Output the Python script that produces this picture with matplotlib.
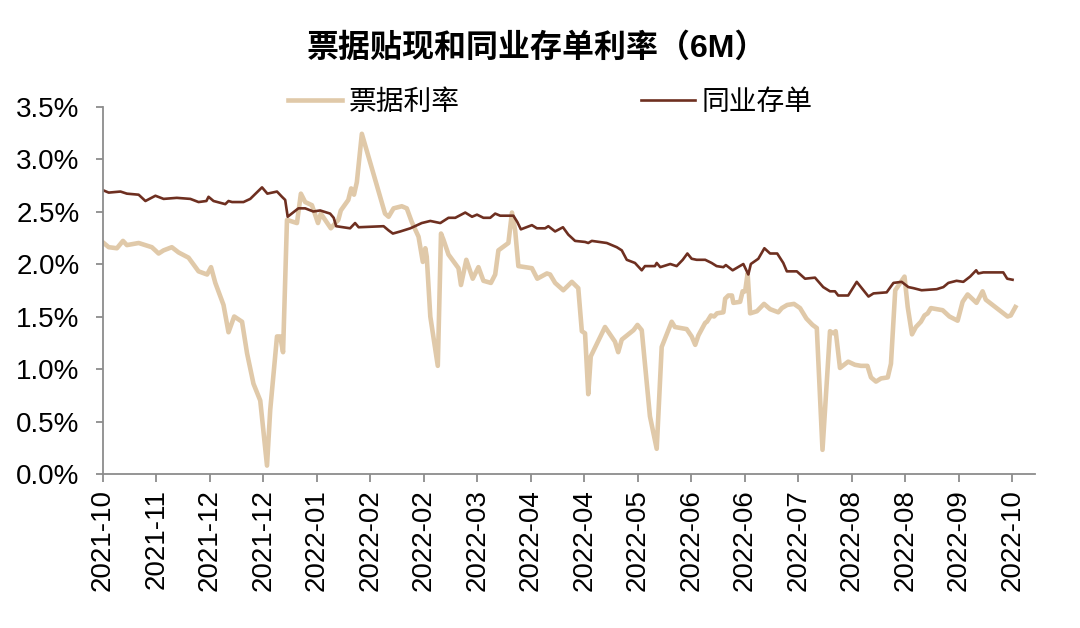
import matplotlib
matplotlib.use("Agg")
import matplotlib.pyplot as plt

plt.rcParams['font.family'] = ['Liberation Sans', 'Noto Sans CJK SC', 'DejaVu Sans']

# x = trading-day index from 2021-10 start
bill_x = [0.2, 1.6, 3.9, 5.6, 6.7, 10.0, 13.7, 15.6, 17.0, 19.3, 21.2, 24.0, 26.8, 29.2, 30.3, 31.5,
          33.8, 35.2, 36.8, 39.0, 40.4, 42.2, 44.1, 46.0, 46.9, 48.8, 49.7, 50.5, 51.6, 54.4, 55.5,
          56.7, 58.6, 60.3, 61.1, 63.9, 66.0, 66.7, 68.8, 69.6, 70.4, 71.2, 72.6, 79.1, 80.1, 81.5,
          83.8, 85.2, 86.6, 88.5, 89.7, 90.4, 90.8, 91.8, 93.9, 94.8, 95.5, 96.9, 99.7, 100.4, 101.9,
          103.7, 105.3, 106.7, 108.8, 110.0, 110.9, 113.7, 114.7, 115.6, 116.5, 120.3, 121.8, 124.5,
          125.4, 126.8, 129.1, 131.5, 133.3, 134.3, 135.2, 136.1, 136.8, 140.8, 143.6, 144.5, 145.5,
          148.8, 149.9, 151.1, 153.4, 155.3, 156.7, 159.5, 160.4, 163.7, 165.1, 166.1, 167.0, 168.9,
          169.4, 170.5, 171.4, 172.2, 174.0, 174.5, 175.4, 176.4, 176.8, 178.7, 179.4, 180.1, 180.8,
          181.5, 183.4, 185.4, 187.1, 189.4, 190.4, 191.9, 193.8, 195.5, 197.3, 199.0, 200.2, 201.8,
          203.9, 204.8, 205.5, 206.7, 209.0, 210.9, 212.6, 214.4, 215.4, 216.8, 218.2, 220.1, 221.0,
          222.2, 224.8, 225.7, 226.9, 228.0, 229.4, 230.4, 231.3, 232.2, 235.5, 237.4, 239.7, 241.1,
          242.5, 245.0, 246.7, 247.6, 251.4, 253.7, 254.6, 255.9]
bill_rate = [2.20, 2.16, 2.15, 2.22, 2.18, 2.20, 2.16, 2.10, 2.13, 2.16, 2.11, 2.06, 1.93, 1.90, 1.97, 1.82,
             1.61, 1.35, 1.50, 1.45, 1.15, 0.86, 0.70, 0.08, 0.61, 1.31, 1.31, 1.16, 2.42, 2.39, 2.67,
             2.59, 2.56, 2.39, 2.48, 2.34, 2.42, 2.51, 2.61, 2.72, 2.66, 2.78, 3.24, 2.48, 2.45, 2.53,
             2.55, 2.53, 2.40, 2.26, 2.02, 2.15, 2.07, 1.50, 1.03, 2.29, 2.23, 2.09, 1.96, 1.80, 2.04,
             1.86, 1.97, 1.84, 1.82, 1.90, 2.13, 2.20, 2.49, 2.32, 1.98, 1.96, 1.86, 1.91,
             1.90, 1.82, 1.75, 1.83, 1.77, 1.36, 1.34, 0.76, 1.12, 1.40, 1.26, 1.16, 1.28,
             1.37, 1.42, 1.37, 0.55, 0.24, 1.21, 1.45, 1.40, 1.38, 1.31, 1.23, 1.32, 1.44,
             1.45, 1.51, 1.50, 1.53, 1.54, 1.67, 1.70, 1.70, 1.63, 1.64, 1.74, 1.74, 1.91,
             1.53, 1.55, 1.62, 1.57, 1.54, 1.58, 1.61, 1.62, 1.58, 1.48, 1.42, 1.39, 0.23,
             1.36, 1.34, 1.36, 1.01, 1.07, 1.04, 1.03, 1.03, 0.92, 0.88, 0.91, 0.92, 1.05,
             1.75, 1.88, 1.59, 1.33, 1.40, 1.45, 1.51, 1.53, 1.58, 1.56, 1.50, 1.46, 1.64,
             1.71, 1.63, 1.74, 1.66, 1.56, 1.50, 1.51, 1.59]

ncd_x = [0.2, 1.6, 4.9, 6.7, 10.0, 11.9, 14.7, 17.0, 20.7, 24.5, 26.8, 29.0, 29.6, 31.0, 34.3, 35.2,
         36.2, 39.4, 41.3, 44.6, 46.1, 48.8, 50.2, 51.1, 51.8, 54.8, 56.7, 59.0, 60.9, 63.7, 64.7,
         65.4, 69.3, 70.7, 71.7, 78.7, 80.1, 81.3, 83.4, 86.2, 89.4, 91.8, 94.6, 96.9, 98.8, 101.6,
         103.5, 104.9, 106.7, 108.6, 110.0, 111.4, 115.1, 116.2, 117.2, 120.3, 121.7, 124.0, 124.9,
         126.8, 129.0, 130.5, 132.4, 135.2, 136.1, 137.1, 141.3, 144.1, 145.5, 146.9, 149.2, 151.1,
         152.0, 154.8, 155.3, 156.3, 159.1, 160.9, 162.6, 163.9, 165.1, 166.5, 168.9, 170.7, 172.1,
         174.0, 174.7, 176.6, 179.6, 181.0, 181.7, 183.8, 185.5, 187.1, 189.1, 190.8, 191.8, 194.6,
         196.9, 199.7, 200.2, 202.0, 203.9, 205.3, 206.2, 209.0, 211.4, 214.7, 216.1, 219.8, 221.7,
         224.0, 225.9, 227.3, 229.6, 233.8, 235.7, 237.1, 239.4, 241.3, 243.2, 244.9, 245.5, 246.9,
         252.5, 253.6, 255.1]
ncd_rate = [2.70, 2.68, 2.69, 2.67, 2.66, 2.60, 2.65, 2.62, 2.63, 2.62, 2.59, 2.60, 2.64, 2.60, 2.57, 2.60,
            2.59, 2.59, 2.62, 2.73, 2.67, 2.69, 2.64, 2.61, 2.45, 2.53, 2.53, 2.50, 2.51, 2.48, 2.44,
            2.36, 2.34, 2.39, 2.35, 2.36, 2.32, 2.29, 2.31, 2.34, 2.39, 2.41, 2.39, 2.44, 2.44, 2.49,
            2.45, 2.47, 2.44, 2.44, 2.48, 2.46, 2.46, 2.40, 2.33, 2.37, 2.34, 2.34, 2.36,
            2.31, 2.35, 2.28, 2.22, 2.21, 2.20, 2.22, 2.20, 2.16, 2.13, 2.04, 2.01, 1.94,
            1.98, 1.98, 2.01, 1.97, 2.00, 1.98, 2.04, 2.10, 2.05, 2.04, 2.04, 2.01, 1.98,
            1.97, 1.99, 1.94, 2.00, 1.90, 2.00, 2.05, 2.15, 2.10, 2.10, 2.01, 1.93, 1.93,
            1.86, 1.87, 1.85, 1.78, 1.74, 1.74, 1.70, 1.70, 1.83, 1.69, 1.72, 1.73, 1.82,
            1.83, 1.78, 1.77, 1.75, 1.76, 1.78, 1.82, 1.84, 1.83, 1.88, 1.94, 1.91, 1.92,
            1.92, 1.86, 1.85]

tick_pos = [0, 15, 30, 45, 60, 75, 90, 105, 120, 135, 150, 165, 180, 195, 210, 225, 240, 255]
tick_labels = ['2021-10', '2021-11', '2021-12', '2021-12', '2022-01', '2022-02', '2022-02', '2022-03',
               '2022-04', '2022-04', '2022-05', '2022-06', '2022-06', '2022-07', '2022-08', '2022-08',
               '2022-09', '2022-10']
y_ticks = [0.0, 0.5, 1.0, 1.5, 2.0, 2.5, 3.0, 3.5]

tan = '#E0C9A9'
brown = '#6E2F20'
grey = '#8C8C8C'

fig = plt.figure(figsize=(10.8, 6.28), dpi=100)
ax = fig.add_axes([103/1080, 1-474/628, (1035-103)/1080, (474-106.5)/628])

l1, = ax.plot(bill_x, bill_rate, color=tan, lw=3.3, solid_joinstyle='round', label='票据利率')
l2, = ax.plot(ncd_x, ncd_rate, color=brown, lw=1.9, solid_joinstyle='round', label='同业存单')

ax.set_xlim(0, 261.4)
ax.set_ylim(0, 3.5)
ax.set_yticks(y_ticks)
ax.set_yticklabels([f'{v:.1f}%' for v in y_ticks])
ax.set_xticks(tick_pos)
ax.set_xticklabels(tick_labels, rotation=90)

for s in ['top', 'right']:
    ax.spines[s].set_visible(False)
for s in ['left', 'bottom']:
    ax.spines[s].set_color(grey)
    ax.spines[s].set_linewidth(1.3)

ax.tick_params(axis='y', direction='out', length=5, width=1.3, color=grey, pad=12,
               labelsize=20, labelcolor='black')
ax.tick_params(axis='x', direction='out', length=6, width=1.3, color=grey, pad=5,
               labelsize=20, labelcolor='black')

fig.text(0.497, 1-48/628, '票据贴现和同业存单利率（6M）', ha='center', va='center',
         fontsize=23, fontweight='bold')

fig.legend(handles=[l1, l2], loc='center left', bbox_to_anchor=(288/1080, 1-103/628),
           ncol=2, frameon=False, fontsize=20, handlelength=1.95, handletextpad=0.25,
           columnspacing=6.5, borderpad=0, borderaxespad=0)

fig.savefig('out.png', dpi=100)
